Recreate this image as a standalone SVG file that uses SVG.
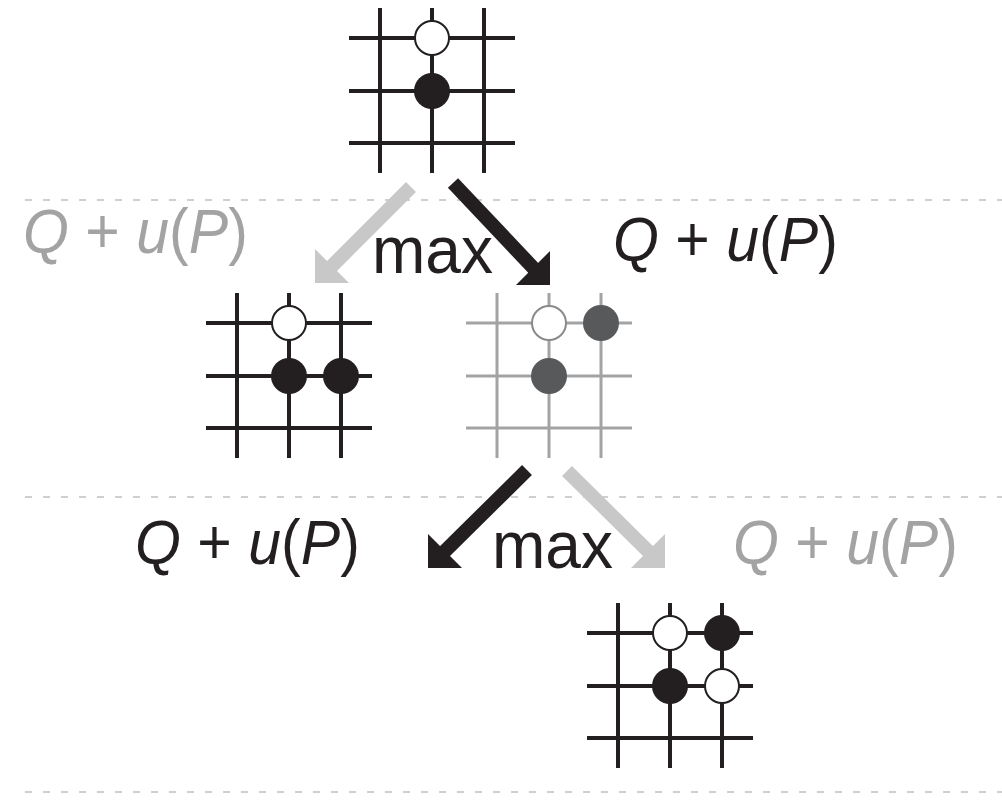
<svg xmlns="http://www.w3.org/2000/svg" xmlns:xlink="http://www.w3.org/1999/xlink" width="1002" height="803" viewBox="0 0 1002 803">
<style>
.grid{fill:none;stroke:#231f20;stroke-width:4}
.grid-gray{fill:none;stroke:#a3a3a3;stroke-width:3}
.black{fill:#231f20}
.white{fill:#fff;stroke:#231f20;stroke-width:2}
.white-gray{fill:#fff;stroke:#8a8a8a;stroke-width:2}
.gstone{fill:#58595b}
.sep{fill:none;stroke:#cfcfcf;stroke-width:2;stroke-dasharray:7 11}
.lbl{font-family:"Liberation Sans",Arial,sans-serif;font-size:63px}
.mx{font-family:"Liberation Sans",Arial,sans-serif;font-size:67px;fill:#231f20}
.dark{fill:#231f20}
.light{fill:#a3a3a3}
.it{font-style:italic}
.sh-dark{stroke:#231f20;stroke-width:14;fill:none}
.sh-light{stroke:#c8c8c8;stroke-width:14;fill:none}
.hd-dark{fill:#231f20}
.hd-light{fill:#c8c8c8}
</style>
<defs>
<path id="board" d="M0 30H166M0 83H166M0 135H166M31 0V165M83 0V165M135 0V165"/>
</defs>
<rect width="1002" height="803" fill="#fff"/>
<g id="separators">
<line class="sep" x1="25" y1="200" x2="1002" y2="200"/>
<line class="sep" x1="25" y1="497" x2="1002" y2="497"/>
<line class="sep" x1="25" y1="792" x2="1002" y2="792"/>
</g>
<g id="root">
<use xlink:href="#board" class="grid" x="349" y="8"/>
<circle class="white" cx="432" cy="38" r="17"/>
<circle class="black" cx="432" cy="91" r="18"/>
</g>
<g id="child-left">
<use xlink:href="#board" class="grid" x="206" y="293"/>
<circle class="white" cx="289" cy="323" r="17"/>
<circle class="black" cx="289" cy="376" r="18"/>
<circle class="black" cx="341" cy="376" r="18"/>
</g>
<g id="child-right">
<use xlink:href="#board" class="grid-gray" x="466" y="293"/>
<circle class="white-gray" cx="549" cy="323" r="17"/>
<circle class="gstone" cx="601" cy="323" r="18"/>
<circle class="gstone" cx="549" cy="376" r="18"/>
</g>
<g id="grandchild">
<use xlink:href="#board" class="grid" x="587" y="603"/>
<circle class="white" cx="670" cy="633" r="17"/>
<circle class="black" cx="722" cy="633" r="18"/>
<circle class="black" cx="670" cy="686" r="18"/>
<circle class="white" cx="722" cy="686" r="17"/>
</g>
<g id="connectors">
<line class="sh-light" x1="411" y1="187" x2="326" y2="272"/>
<polygon class="hd-light" points="315,283 315,249 349,283"/>
<line class="sh-dark" x1="453" y1="183" x2="539" y2="274"/>
<polygon class="hd-dark" points="550,285 550,251 516,285"/>
<line class="sh-dark" x1="527" y1="470" x2="439" y2="557"/>
<polygon class="hd-dark" points="428,568 428,534 462,568"/>
<line class="sh-light" x1="567" y1="471" x2="654" y2="557"/>
<polygon class="hd-light" points="665,568 665,534 631,568"/>
</g>
<g id="labels">
<text class="lbl light" transform="translate(23,253) scale(0.9375,1)"><tspan class="it">Q</tspan> + <tspan class="it">u</tspan>(<tspan class="it">P</tspan>)</text>
<text class="mx" transform="translate(372,273) scale(0.956,1)">max</text>
<text class="lbl dark" transform="translate(613,261) scale(0.9375,1)"><tspan class="it">Q</tspan> + <tspan class="it">u</tspan>(<tspan class="it">P</tspan>)</text>
<text class="lbl dark" transform="translate(135,564) scale(0.9375,1)"><tspan class="it">Q</tspan> + <tspan class="it">u</tspan>(<tspan class="it">P</tspan>)</text>
<text class="mx" transform="translate(492,568) scale(0.956,1)">max</text>
<text class="lbl light" transform="translate(733,564) scale(0.9375,1)"><tspan class="it">Q</tspan> + <tspan class="it">u</tspan>(<tspan class="it">P</tspan>)</text>
</g>
</svg>
